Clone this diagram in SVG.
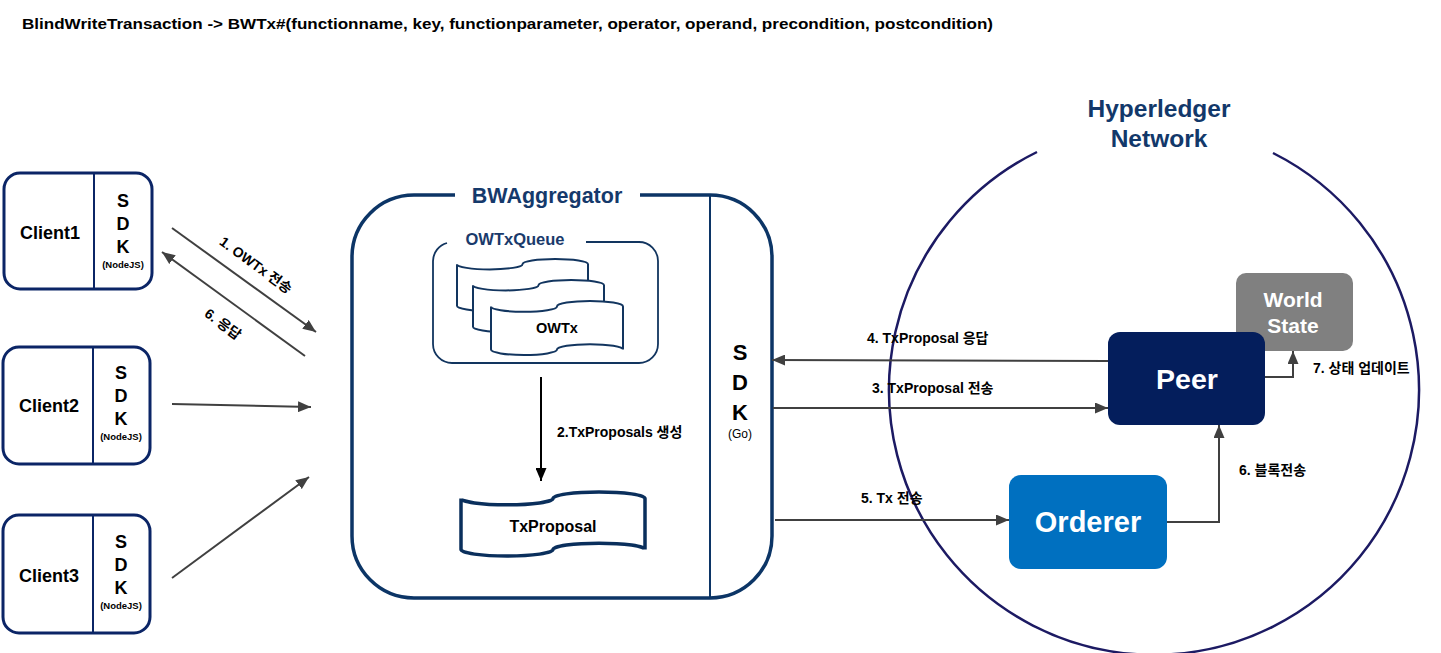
<svg xmlns="http://www.w3.org/2000/svg" width="1441" height="653" viewBox="0 0 1441 653">
<style>
.t{font-family:"Liberation Sans","Noto Sans CJK KR",Arial,sans-serif;font-weight:bold}
.cl{stroke:#0b2566;stroke-width:3;fill:#fff}
.dv{stroke:#0b2566;stroke-width:2}
.ar{stroke:#404040;stroke-width:2;fill:none}
.tape{fill:#fff;stroke:#12355f;stroke-width:2}
</style>
<defs>
<marker id="ah" markerUnits="userSpaceOnUse" markerWidth="13" markerHeight="11" refX="13" refY="5.5" orient="auto">
<path d="M0,0 L13,5.5 L0,11 z" fill="#404040"/>
</marker>
<marker id="ahb" markerUnits="userSpaceOnUse" markerWidth="13" markerHeight="11" refX="13" refY="5.5" orient="auto">
<path d="M0,0 L13,5.5 L0,11 z" fill="#000"/>
</marker>
</defs>
<rect width="1441" height="653" fill="#fff"/>
<text class="t" x="22" y="29" font-size="14.5" textLength="971" lengthAdjust="spacingAndGlyphs">BlindWriteTransaction -&gt; BWTx#(functionname, key, functionparameter, operator, operand, precondition, postcondition)</text>

<g id="client1">
<rect class="cl" x="4" y="173" width="148" height="116" rx="16"/>
<line class="dv" x1="94" y1="173" x2="94" y2="289"/>
<text class="t" x="50" y="239" font-size="18" text-anchor="middle">Client1</text>
<text class="t" x="123" y="207" font-size="18" text-anchor="middle">S</text>
<text class="t" x="123" y="230" font-size="18" text-anchor="middle">D</text>
<text class="t" x="123" y="253" font-size="18" text-anchor="middle">K</text>
<text class="t" x="123" y="268" font-size="9.5" text-anchor="middle">(NodeJS)</text>
</g>
<g id="client2">
<rect class="cl" x="3" y="347" width="147" height="117" rx="16"/>
<line class="dv" x1="93" y1="347" x2="93" y2="464"/>
<text class="t" x="49" y="412" font-size="18" text-anchor="middle">Client2</text>
<text class="t" x="121" y="379" font-size="18" text-anchor="middle">S</text>
<text class="t" x="121" y="402" font-size="18" text-anchor="middle">D</text>
<text class="t" x="121" y="425" font-size="18" text-anchor="middle">K</text>
<text class="t" x="121" y="440" font-size="9.5" text-anchor="middle">(NodeJS)</text>
</g>
<g id="client3">
<rect class="cl" x="3" y="515" width="147" height="118" rx="16"/>
<line class="dv" x1="93" y1="515" x2="93" y2="633"/>
<text class="t" x="49" y="582" font-size="18" text-anchor="middle">Client3</text>
<text class="t" x="121" y="548" font-size="18" text-anchor="middle">S</text>
<text class="t" x="121" y="571" font-size="18" text-anchor="middle">D</text>
<text class="t" x="121" y="594" font-size="18" text-anchor="middle">K</text>
<text class="t" x="121" y="609" font-size="9.5" text-anchor="middle">(NodeJS)</text>
</g>

<g id="bwaggregator">
<path d="M640,195 H710 A62,62 0 0 1 772,257 V536 A62,62 0 0 1 710,598 H414 A62,62 0 0 1 352,536 V257 A62,62 0 0 1 414,195 H455" fill="none" stroke="#0c3566" stroke-width="3.5"/>
<line x1="710" y1="195" x2="710" y2="598" stroke="#0c3566" stroke-width="2"/>
<text class="t" x="547" y="203" font-size="21.5" fill="#15396b" text-anchor="middle">BWAggregator</text>
<text class="t" x="740" y="360" font-size="22" text-anchor="middle">S</text>
<text class="t" x="740" y="390" font-size="22" text-anchor="middle">D</text>
<text class="t" x="740" y="420" font-size="22" text-anchor="middle">K</text>
<text x="740" y="438" font-size="12" text-anchor="middle" font-family="Liberation Sans, Arial, sans-serif">(Go)</text>
</g>

<g id="owtxqueue">
<path d="M586,242 H639 A19,19 0 0 1 658,261 V344 A19,19 0 0 1 639,363 H452 A19,19 0 0 1 433,344 V261 A19,19 0 0 1 447,243" fill="none" stroke="#12355f" stroke-width="1.8"/>
<text class="t" x="515" y="245" font-size="16.5" fill="#1a3a6b" text-anchor="middle">OWTxQueue</text>
<path class="tape" d="M457,264.2 A32.75,5.2 0 0 0 522.5,264.2 A32.75,5.2 0 0 1 588,264.2 V305.8 A32.75,5.2 0 0 0 522.5,305.8 A32.75,5.2 0 0 1 457,305.8 Z"/>
<path class="tape" d="M473,285.2 A32.75,5.2 0 0 0 538.5,285.2 A32.75,5.2 0 0 1 604,285.2 V326.8 A32.75,5.2 0 0 0 538.5,326.8 A32.75,5.2 0 0 1 473,326.8 Z"/>
<path class="tape" d="M491,306.4 A33,5.4 0 0 0 557,306.4 A33,5.4 0 0 1 623,306.4 V349.6 A33,5.4 0 0 0 557,349.6 A33,5.4 0 0 1 491,349.6 Z"/>
<text class="t" x="557" y="333" font-size="14.5" text-anchor="middle">OWTx</text>
</g>

<g id="txproposal">
<path d="M461,498.4 A46,6.4 0 0 0 553,498.4 A46,6.4 0 0 1 645,498.4 V549.6 A46,6.4 0 0 0 553,549.6 A46,6.4 0 0 1 461,549.6 Z" fill="#fff" stroke="#0a2f5c" stroke-width="3.5"/>
<text class="t" x="553" y="532" font-size="16" text-anchor="middle">TxProposal</text>
</g>

<g id="hyperledger-network">
<path d="M1273,153 A265,265 0 1 1 1037,152" fill="none" stroke="#1c1a63" stroke-width="2.5"/>
<text class="t" x="1159" y="117" font-size="24.5" fill="#12386a" text-anchor="middle">Hyperledger</text>
<text class="t" x="1159" y="147" font-size="24.5" fill="#12386a" text-anchor="middle">Network</text>
</g>

<g id="worldstate">
<rect x="1236" y="273" width="117" height="78" rx="10" fill="#808080"/>
<text class="t" x="1293" y="307" font-size="21" fill="#fff" text-anchor="middle">World</text>
<text class="t" x="1293" y="333" font-size="21" fill="#fff" text-anchor="middle">State</text>
</g>
<g id="peer">
<rect x="1108" y="332" width="157" height="93" rx="12" fill="#041e5c"/>
<text class="t" x="1187" y="389" font-size="28.5" fill="#fff" text-anchor="middle">Peer</text>
</g>
<g id="orderer">
<rect x="1009" y="475" width="158" height="94" rx="12" fill="#0070c0"/>
<text class="t" x="1088" y="532" font-size="29" fill="#fff" text-anchor="middle">Orderer</text>
</g>

<g id="connectors">
<line class="ar" x1="172" y1="228" x2="316" y2="332" marker-end="url(#ah)"/>
<line class="ar" x1="305" y1="356" x2="162" y2="252" marker-end="url(#ah)"/>
<line class="ar" x1="172" y1="404" x2="311" y2="407" marker-end="url(#ah)"/>
<line class="ar" x1="172" y1="578" x2="309" y2="477" marker-end="url(#ah)"/>
<line x1="541" y1="377" x2="541" y2="481" stroke="#000" stroke-width="2" marker-end="url(#ahb)"/>
<line class="ar" x1="1108" y1="361" x2="772" y2="360" marker-end="url(#ah)"/>
<line class="ar" x1="773" y1="408" x2="1108" y2="408" marker-end="url(#ah)"/>
<line class="ar" x1="775" y1="520" x2="1009" y2="520" marker-end="url(#ah)"/>
<path class="ar" d="M1167,522 H1219 V425" marker-end="url(#ah)"/>
<path class="ar" d="M1265,377 H1293 V351" marker-end="url(#ah)"/>
<text class="t" x="256" y="270" font-size="14" text-anchor="middle" transform="rotate(36 256 265)">1. OWTx 전송</text>
<text class="t" x="223" y="329" font-size="14" text-anchor="middle" transform="rotate(37 223 324)">6. 응답</text>
<text class="t" x="557" y="437" font-size="14">2.TxProposals 생성</text>
<text class="t" x="867" y="343" font-size="14">4. TxProposal 응답</text>
<text class="t" x="872" y="393" font-size="14">3. TxProposal 전송</text>
<text class="t" x="861" y="503" font-size="14">5. Tx 전송</text>
<text class="t" x="1313" y="373" font-size="14">7. 상태 업데이트</text>
<text class="t" x="1239" y="475" font-size="14">6. 블록전송</text>
</g>
</svg>
